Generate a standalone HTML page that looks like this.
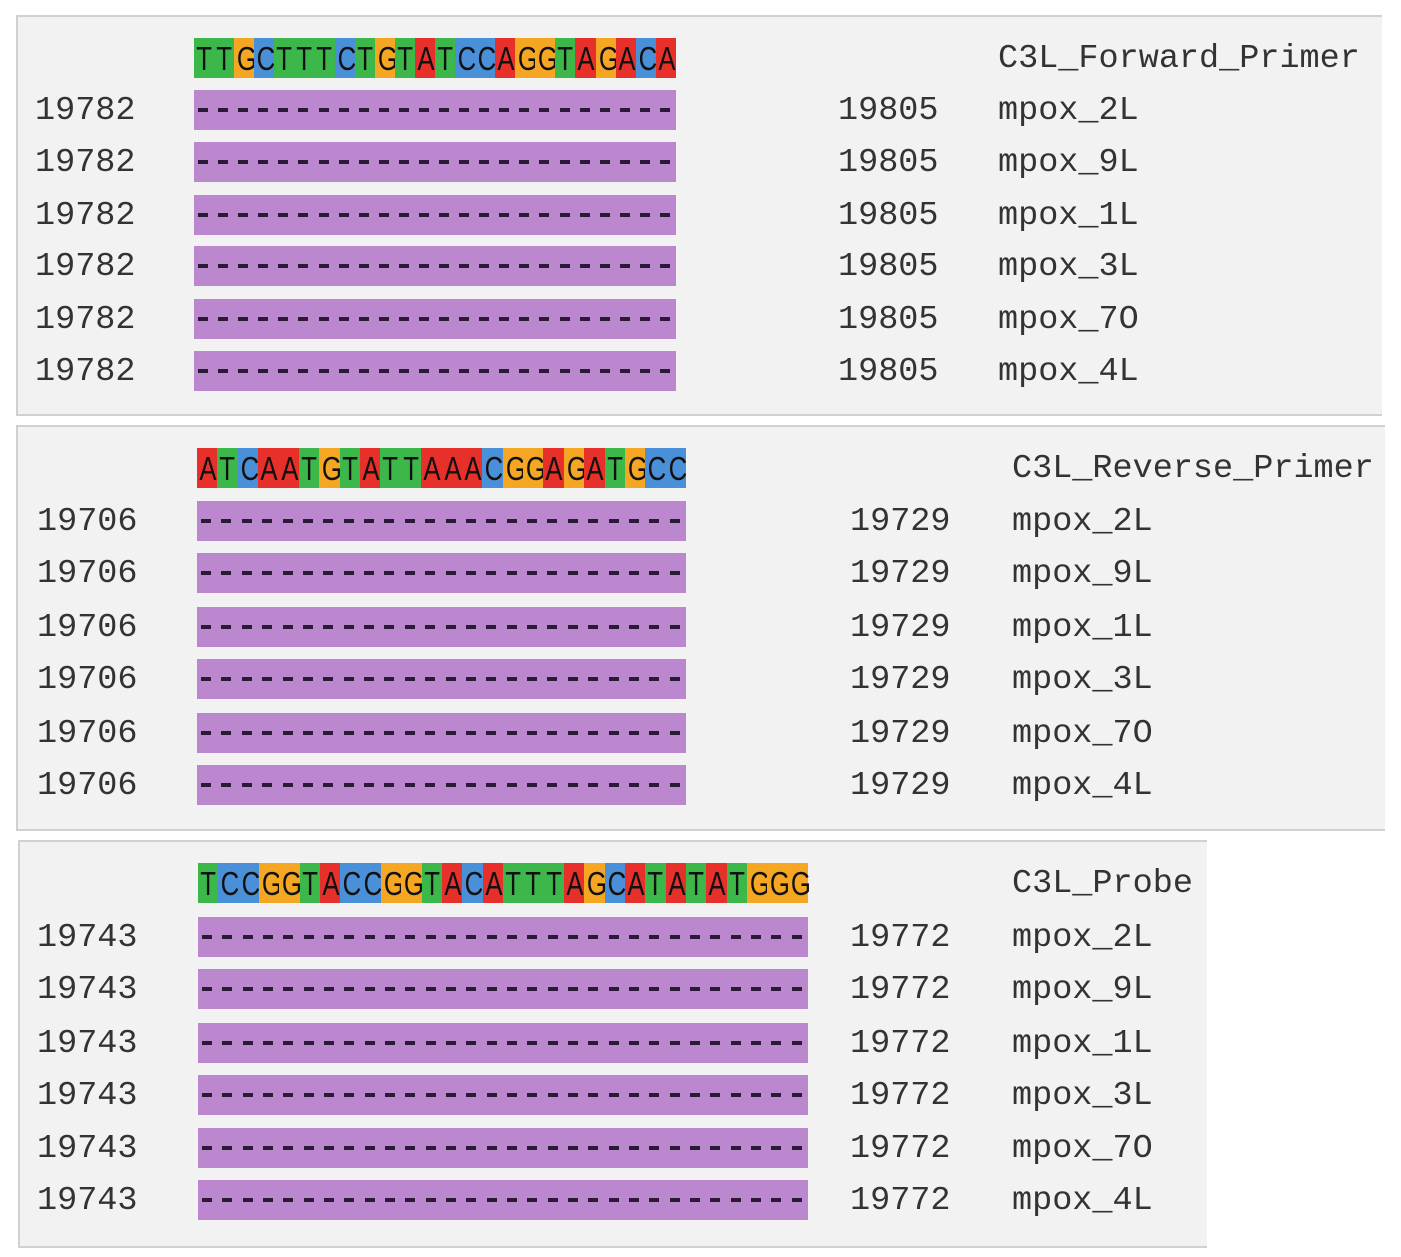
<!DOCTYPE html>
<html><head><meta charset="utf-8"><style>
html,body{margin:0;padding:0;background:#fff;width:1401px;height:1257px;overflow:hidden;position:relative}
.p{position:absolute;background:#f2f2f2;border:2px solid #d0d0d0;border-right:none;box-sizing:border-box}
.t{position:absolute;font-family:"Liberation Mono",monospace;font-size:33.5px;color:#333;line-height:44px;white-space:pre}
.seq{position:absolute;height:40px;display:flex}
.seq span{display:block;height:40px;line-height:42px;text-align:center;font-family:"Liberation Sans",sans-serif;font-size:33px;color:#111;position:relative}
.seq span b{font-weight:normal;display:inline-block;transform:scaleX(0.78);transform-origin:center}
.bar{position:absolute;height:40px;background:#bb88d0;overflow:hidden}
.bar i{position:absolute;top:18px;height:4px;width:10px;background:#2a1a33}
</style></head><body>
<div class="p" style="left:16px;top:15px;width:1366px;height:401px"></div>
<div class="p" style="left:16px;top:425px;width:1369px;height:406px"></div>
<div class="p" style="left:18px;top:840px;width:1189px;height:408px"></div>
<div id="c"></div>
<script>
var col={A:'#e8302a',T:'#3cb84a',G:'#f5a623',C:'#4a90d9'};
var names=['mpox_2L','mpox_9L','mpox_1L','mpox_3L','mpox_7O','mpox_4L'];
var P=[
{seq:'TTGCTTTCTGTATCCAGGTAGACA',x0:194,x1:676,sy:58,rows:[110,162,215,266,319,371],n1:'19782',n2:'19805',nx:35,rx:838,lx:998,title:'C3L_Forward_Primer'},
{seq:'ATCAATGTATTAAACGGAGATGCC',x0:197,x1:686,sy:468,rows:[521,573,627,679,733,785],n1:'19706',n2:'19729',nx:37,rx:850,lx:1012,title:'C3L_Reverse_Primer'},
{seq:'TCCGGTACCGGTACATTTAGCATATATGGG',x0:198,x1:808,sy:883,rows:[937,989,1043,1095,1148,1200],n1:'19743',n2:'19772',nx:37,rx:850,lx:1012,title:'C3L_Probe'}];
var h='';
P.forEach(function(p){
 var n=p.seq.length,w=(p.x1-p.x0)/n;
 h+='<div class="seq" style="left:'+p.x0+'px;top:'+(p.sy-20)+'px;width:'+(p.x1-p.x0)+'px">';
 for(var i=0;i<n;i++){var c=p.seq[i];h+='<span style="width:'+w+'px;background:'+col[c]+'"><b>'+c+'</b></span>';}
 h+='</div>';
 h+='<div class="t" style="left:'+p.lx+'px;top:'+(p.sy-21)+'px">'+p.title+'</div>';
 p.rows.forEach(function(y,k){
  h+='<div class="t" style="left:'+p.nx+'px;top:'+(y-21)+'px">'+p.n1+'</div>';
  h+='<div class="t" style="left:'+p.rx+'px;top:'+(y-21)+'px">'+p.n2+'</div>';
  h+='<div class="t" style="left:'+p.lx+'px;top:'+(y-21)+'px">'+names[k]+'</div>';
  h+='<div class="bar" style="left:'+p.x0+'px;top:'+(y-20)+'px;width:'+(p.x1-p.x0)+'px">';
  for(var i=0;i<n;i++){h+='<i style="left:'+(i*w+4)+'px"></i>';}
  h+='</div>';
 });
});
document.getElementById('c').innerHTML=h;
</script>
</body></html>
